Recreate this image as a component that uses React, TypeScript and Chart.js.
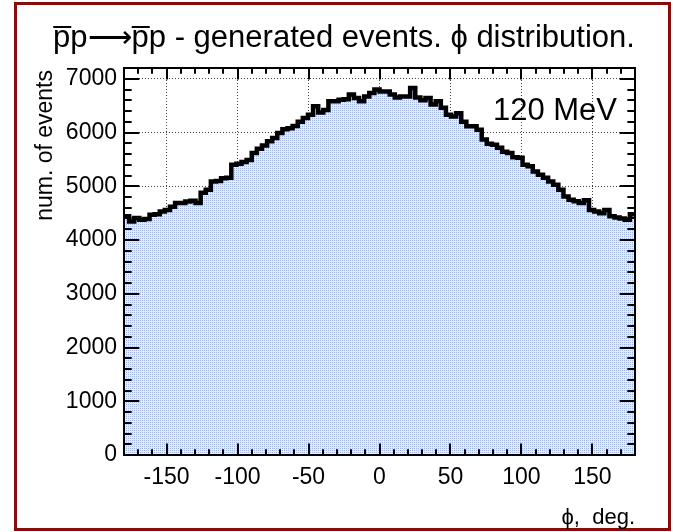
import React, { useEffect, useRef } from 'react';
import { Chart, registerables } from 'chart.js';

Chart.register(...registerables);

// ---- data ----
const PHI_MIN = -180;
const PHI_MAX = 180;
const BIN_WIDTH = 3.6;
const binCounts = [
  4440, 4345, 4410, 4376, 4390, 4470, 4480, 4530, 4560, 4620,
  4690, 4690, 4717, 4730, 4690, 4880, 4935, 5090, 5100, 5150,
  5160, 5400, 5420, 5450, 5490, 5620, 5700, 5760, 5835, 5900,
  5990, 6060, 6080, 6120, 6200, 6270, 6330, 6490, 6370, 6420,
  6580, 6580, 6610, 6620, 6705, 6640, 6580, 6670, 6735, 6800,
  6765, 6765, 6705, 6650, 6670, 6670, 6830, 6650, 6600, 6640,
  6520, 6580, 6460, 6330, 6300, 6360, 6200, 6115, 6115, 6050,
  5870, 5790, 5770, 5715, 5640, 5620, 5540, 5530, 5400, 5370,
  5275, 5215, 5160, 5090, 5030, 4935, 4810, 4750, 4720, 4690,
  4740, 4560, 4530, 4500, 4560, 4440, 4420, 4400, 4375, 4480,
];
const xTickValues = [-150, -100, -50, 0, 50, 100, 150];
const yTickValues = [0, 1000, 2000, 3000, 4000, 5000, 6000, 7000];
const Y_MAX = 7200;
const X_MINOR_STEP = 10;
const X_MAJOR_STEP = 50;
const Y_MINOR_STEP = 200;
const Y_MAJOR_STEP = 1000;

const titleText = 'p\u0305p\u27F6p\u0305p - generated events. \u03D5 distribution.';
const xTitle = '\u03D5,  deg.';
const yTitle = 'num. of events';
const energyLabel = '120 MeV';

const FONT = '"Liberation Sans", Arial, Helvetica, sans-serif';

function makePattern(ctx: CanvasRenderingContext2D) {
  const pc = document.createElement('canvas');
  pc.width = 2;
  pc.height = 2;
  const p = pc.getContext('2d')!;
  p.fillStyle = '#e6ebf7';
  p.fillRect(0, 0, 2, 2);
  p.fillStyle = '#a2b4e0';
  p.fillRect(0, 0, 1, 1);
  return ctx.createPattern(pc, 'repeat')!;
}

const framePlugin = {
  id: 'rootFrame',
  beforeDraw(chart: any) {
    const ctx = chart.ctx as CanvasRenderingContext2D;
    ctx.save();
    ctx.fillStyle = '#ffffff';
    ctx.fillRect(0, 0, chart.width, chart.height);
    ctx.strokeStyle = '#8b0a0a';
    ctx.lineWidth = 3;
    ctx.strokeRect(15.5, 3.5, 654, 526);
    ctx.restore();
  },
  afterDraw(chart: any) {
    const ctx = chart.ctx as CanvasRenderingContext2D;
    const a = chart.chartArea;
    const x = chart.scales.x;
    const y = chart.scales.y;
    ctx.save();
    ctx.strokeStyle = '#000';
    ctx.lineWidth = 2;
    const h = a.bottom - a.top;
    const w = a.right - a.left;
    ctx.beginPath();
    for (let v = PHI_MIN + X_MINOR_STEP; v < PHI_MAX; v += X_MINOR_STEP) {
      const px = Math.round(x.getPixelForValue(v));
      const len = v % X_MAJOR_STEP === 0 ? 0.03 * h : 0.015 * h;
      ctx.moveTo(px, a.bottom);
      ctx.lineTo(px, a.bottom - len);
      ctx.moveTo(px, a.top);
      ctx.lineTo(px, a.top + len);
    }
    for (let v = Y_MINOR_STEP; v < Y_MAX; v += Y_MINOR_STEP) {
      const py = Math.round(y.getPixelForValue(v));
      const len = v % Y_MAJOR_STEP === 0 ? 0.03 * w : 0.015 * w;
      ctx.moveTo(a.left, py);
      ctx.lineTo(a.left + len, py);
      ctx.moveTo(a.right, py);
      ctx.lineTo(a.right - len, py);
    }
    ctx.stroke();
    ctx.strokeRect(a.left, a.top, w, h);

    ctx.fillStyle = '#000';
    // main title
    ctx.font = `31px ${FONT}`;
    ctx.textAlign = 'center';
    ctx.textBaseline = 'alphabetic';
    ctx.fillText(titleText, 344, 47);
    // energy label
    ctx.font = `31px ${FONT}`;
    ctx.textAlign = 'right';
    ctx.fillText(energyLabel, a.right - 18, a.top + 52);
    // x title
    ctx.font = `22px ${FONT}`;
    ctx.textAlign = 'right';
    ctx.fillText(xTitle, a.right, 524);
    // y title
    ctx.save();
    ctx.font = `23px ${FONT}`;
    ctx.translate(52, a.top + 2);
    ctx.rotate(-Math.PI / 2);
    ctx.textAlign = 'right';
    ctx.fillText(yTitle, 0, 0);
    ctx.restore();
    ctx.restore();
  },
};

export default function App() {
  const ref = useRef<HTMLCanvasElement>(null);
  useEffect(() => {
    const canvas = ref.current!;
    const ctx = canvas.getContext('2d')!;
    const points = binCounts.map((v, i) => ({ x: PHI_MIN + i * BIN_WIDTH, y: v }));
    points.push({ x: PHI_MAX, y: binCounts[binCounts.length - 1] });
    const chart = new Chart(ctx, {
      type: 'line',
      data: {
        datasets: [
          {
            data: points,
            stepped: true,
            borderColor: '#000',
            borderWidth: 4.5,
            backgroundColor: makePattern(ctx),
            fill: 'origin',
            pointRadius: 0,
            borderJoinStyle: 'miter',
            borderCapStyle: 'butt',
          } as any,
        ],
      },
      options: {
        responsive: false,
        animation: false,
        devicePixelRatio: 1,
        layout: { padding: { top: 68, right: 38, left: 0, bottom: 0 } },
        plugins: {
          legend: { display: false },
          title: { display: false },
          tooltip: { enabled: false },
        },
        scales: {
          x: {
            type: 'linear',
            min: PHI_MIN,
            max: PHI_MAX,
            z: 1,
            afterBuildTicks: (s: any) => {
              s.ticks = xTickValues.map((v) => ({ value: v }));
            },
            afterFit: (s: any) => {
              s.height = 77;
            },
            grid: { color: '#444', lineWidth: 1, drawTicks: false },
            border: { display: false, dash: [1, 2] },
            ticks: {
              font: { family: FONT, size: 23 },
              color: '#000',
              padding: 9,
              maxRotation: 0,
              autoSkip: false,
              callback: (v: any) => String(v),
            },
          },
          y: {
            type: 'linear',
            min: 0,
            max: Y_MAX,
            z: 1,
            afterBuildTicks: (s: any) => {
              s.ticks = yTickValues.map((v) => ({ value: v }));
            },
            afterFit: (s: any) => {
              s.width = 124;
            },
            grid: { color: '#444', lineWidth: 1, drawTicks: false },
            border: { display: false, dash: [1, 2] },
            ticks: {
              font: { family: FONT, size: 23 },
              color: '#000',
              padding: 7,
              autoSkip: false,
              callback: (v: any) => String(v),
            },
          },
        },
      } as any,
      plugins: [framePlugin],
    });
    return () => chart.destroy();
  }, []);
  return (
    <div style={{ position: 'fixed', left: 0, top: 0, width: 673, height: 532 }}>
      <canvas ref={ref} width={673} height={532} style={{ display: 'block' }} />
    </div>
  );
}
